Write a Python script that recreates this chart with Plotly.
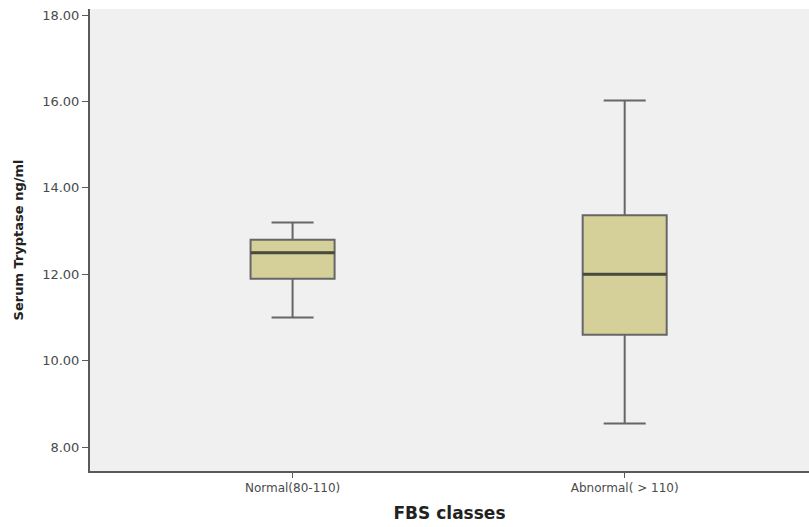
import plotly.graph_objects as go

categories = ["Normal(80-110)", "Abnormal( > 110)"]
lower_whisker = [11.0, 8.55]
q1_vals = [11.9, 10.6]
median_vals = [12.5, 12.0]
q3_vals = [12.8, 13.37]
upper_whisker = [13.2, 16.02]
y_tick_vals = [8, 10, 12, 14, 16, 18]
y_tick_text = ["8.00", "10.00", "12.00", "14.00", "16.00", "18.00"]

box_w = 0.253
xpos = list(range(len(categories)))

fig = go.Figure()
fig.add_trace(go.Box(
    x=xpos, q1=q1_vals, median=median_vals, q3=q3_vals,
    lowerfence=lower_whisker, upperfence=upper_whisker,
    width=box_w, whiskerwidth=0.5,
    fillcolor="#D5D09A", line=dict(color="#666666", width=2),
    boxpoints=False, hoverinfo="skip", showlegend=False,
))
for i, m in zip(xpos, median_vals):
    fig.add_trace(go.Scatter(
        x=[i - box_w / 2, i + box_w / 2], y=[m, m], mode="lines",
        line=dict(color="#4a4a3c", width=3), showlegend=False, hoverinfo="skip",
    ))

fig.update_layout(
    width=809, height=527,
    margin=dict(l=90, r=0, t=9, b=56),
    paper_bgcolor="white", plot_bgcolor="#F0F0F0",
    font=dict(family="DejaVu Sans, sans-serif", color="#333"),
    xaxis=dict(
        range=[-0.61, 1.555], tickvals=xpos, ticktext=categories,
        showgrid=False, zeroline=False, showline=True, linecolor="#5a5a5a", linewidth=2,
        ticks="outside", ticklen=5, tickcolor="#5a5a5a",
        tickfont=dict(size=12, color="#4a4a4a"),
        title=dict(text="<b>FBS classes</b>", font=dict(size=17, color="#222"), standoff=13),
    ),
    yaxis=dict(
        range=[7.45, 18.14], tickvals=y_tick_vals, ticktext=y_tick_text,
        showgrid=False, zeroline=False, showline=True, linecolor="#5a5a5a", linewidth=2,
        ticks="outside", ticklen=6, tickcolor="#5a5a5a",
        tickfont=dict(size=13, color="#4a4a4a"),
        title=dict(text="<b>Serum Tryptase ng/ml</b>", font=dict(size=13, color="#222"), standoff=16),
    ),
)
fig.write_html("out.html", config={"displayModeBar": False},
               post_script="document.body.style.margin='0';")
